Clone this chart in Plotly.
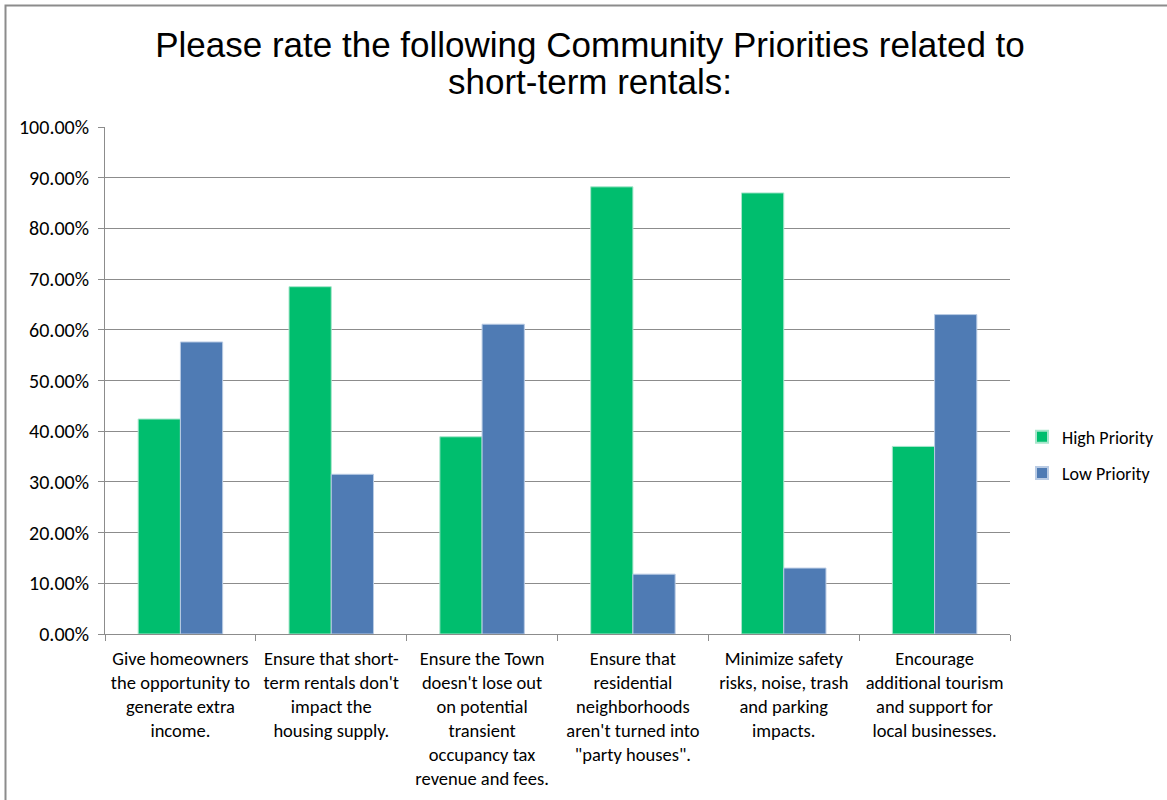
import plotly.graph_objects as go

categories = [
    "Give homeowners<br>the opportunity to<br>generate extra<br>income.",
    "Ensure that short-<br>term rentals don't<br>impact the<br>housing supply.",
    "Ensure the Town<br>doesn't lose out<br>on potential<br>transient<br>occupancy tax<br>revenue and fees.",
    "Ensure that<br>residential<br>neighborhoods<br>aren't turned into<br>\"party houses\".",
    "Minimize safety<br>risks, noise, trash<br>and parking<br>impacts.",
    "Encourage<br>additional tourism<br>and support for<br>local businesses.",
]
high_priority = [0.424, 0.685, 0.389, 0.882, 0.870, 0.370]
low_priority = [0.576, 0.315, 0.611, 0.118, 0.130, 0.630]
title_lines = ["Please rate the following Community Priorities related to", "short-term rentals:"]

GREEN = "#00BE6E"
BLUE = "#4F7BB4"
GRID = "#8C8C8C"
LABEL_FONT = "Calibri, Carlito, Lato, sans-serif"
TITLE_FONT = dict(family="Arial, Liberation Sans, sans-serif", size=35, color="black")

fig = go.Figure()
fig.add_trace(go.Bar(x=categories, y=high_priority, name="High Priority", legendgroup="h",
                     marker=dict(color=GREEN, line=dict(color="#A8E6CC", width=1))))
fig.add_trace(go.Bar(x=categories, y=low_priority, name="Low Priority", legendgroup="l",
                     marker=dict(color=BLUE, line=dict(color="#B9CBE4", width=1))))

W, H = 1167, 800
L, R, T, B = 105, 157, 127, 166
pw, ph = W - L - R, H - T - B

fig.update_layout(
    width=W, height=H,
    margin=dict(l=L, r=R, t=T, b=B, autoexpand=False),
    paper_bgcolor="white", plot_bgcolor="white",
    barmode="group", bargap=0.44, bargroupgap=0,
    title=dict(
        text=title_lines[0],
        x=590 / W, xanchor="center", y=1 - 45 / H, yanchor="middle",
        font=TITLE_FONT,
    ),
    legend=dict(
        xref="container", x=1022 / W, xanchor="left",
        y=(634 - 455) / ph, yanchor="middle",
        font=dict(family=LABEL_FONT, size=18, color="black"),
        itemsizing="constant", tracegroupgap=10, bgcolor="rgba(0,0,0,0)",
    ),
    font=dict(family=LABEL_FONT, color="black"),
    showlegend=True,
)
fig.add_annotation(
    text=title_lines[1], xref="paper", yref="paper",
    x=(590 - L) / pw, y=1 + (T - 81) / ph, xanchor="center", yanchor="middle",
    showarrow=False, font=TITLE_FONT,
)
fig.update_xaxes(
    showline=True, linecolor=GRID, linewidth=1,
    ticks="outside", tickson="boundaries", ticklen=6, tickcolor=GRID,
    tickfont=dict(family=LABEL_FONT, size=18.5, color="black"),
    showgrid=False, tickangle=0, ticklabelstandoff=8,
)
fig.update_yaxes(
    range=[0, 1], dtick=0.1, tickformat=".2%",
    showline=True, linecolor=GRID, linewidth=1,
    ticks="outside", ticklen=6, tickcolor=GRID,
    showgrid=True, gridcolor=GRID, gridwidth=1,
    tickfont=dict(family=LABEL_FONT, size=20, color="black"),
    zeroline=False, ticklabelstandoff=5,
)

# outer chart border
fig.add_shape(type="rect", xref="paper", yref="paper",
              x0=(5.5 - L) / pw, x1=1.3, y0=-0.5, y1=1 + (T - 5.5) / ph,
              line=dict(color="#8C8C8C", width=2), fillcolor="rgba(0,0,0,0)", layer="below")

fig.write_html("out.html")
